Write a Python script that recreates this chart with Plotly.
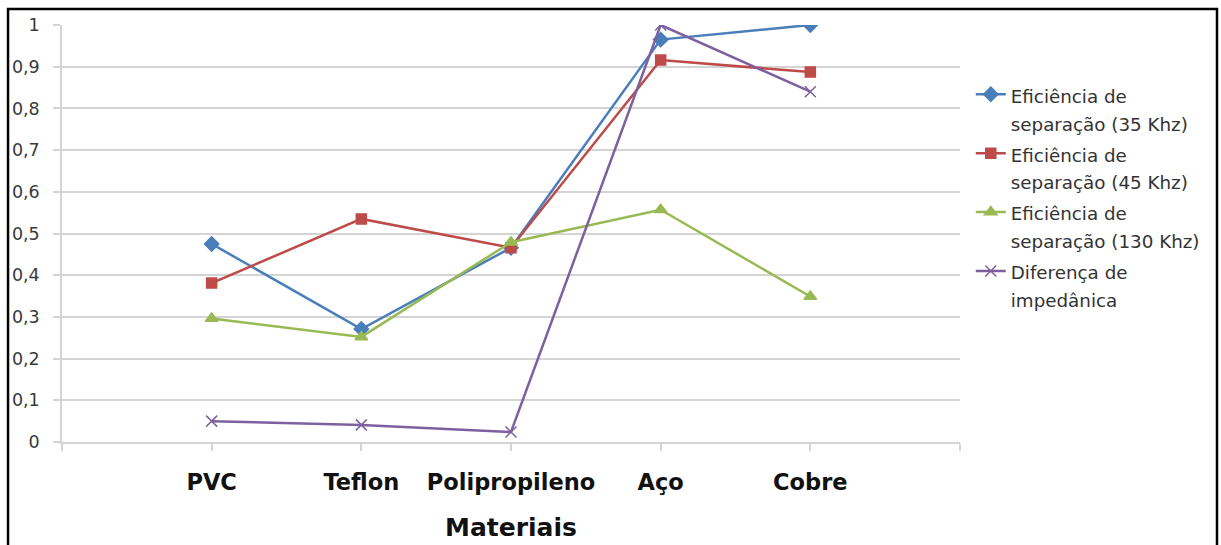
import plotly.graph_objects as go

materiais = ["PVC", "Teflon", "Polipropileno", "Aço", "Cobre"]
ef_35 = [0.475, 0.271, 0.466, 0.965, 1.0]
ef_45 = [0.381, 0.535, 0.466, 0.916, 0.887]
ef_130 = [0.296, 0.252, 0.479, 0.557, 0.349]
dif_imp = [0.050, 0.041, 0.024, 1.0, 0.840]

y_ticks = [0, 0.1, 0.2, 0.3, 0.4, 0.5, 0.6, 0.7, 0.8, 0.9, 1]

series = [
    ("Eficiência de<br>separação (35 Khz)", ef_35, "#4A7EBB", "diamond", 11),
    ("Eficiência de<br>separação (45 Khz)", ef_45, "#BE4B48", "square", 10),
    ("Eficiência de<br>separação (130 Khz)", ef_130, "#98B954", "triangle-up", 11),
    ("Diferença de<br>impedânica", dif_imp, "#7D60A0", "x-thin-open", 11),
]

xpos = list(range(1, len(materiais) + 1))
FONT = "DejaVu Sans"

fig = go.Figure()
for name, vals, color, symbol, size in series:
    fig.add_trace(go.Scatter(
        x=xpos, y=vals, mode="lines+markers",
        name=f"<span style='font-size:18.3px'>{name}</span>",
        line=dict(color=color, width=2.5),
        marker=dict(symbol=symbol, size=size, color=color,
                    line=dict(color=color, width=1.5)),
    ))

grid = "#D4D4D4"
fig.update_layout(
    width=1221, height=545,
    margin=dict(l=62, r=261, t=25, b=103, autoexpand=False),
    paper_bgcolor="white", plot_bgcolor="white",
    separators=",.",
    font=dict(family=FONT, color="#404040"),
    showlegend=True,
    legend=dict(
        x=1.012, y=0.883, xanchor="left", yanchor="top",
        font=dict(size=21.5, color="#333333"),
        valign="top", itemwidth=30, tracegroupgap=0,
        bgcolor="rgba(0,0,0,0)",
    ),
    xaxis=dict(
        range=[0, len(materiais) + 1],
        tickvals=list(range(0, len(materiais) + 2)),
        ticktext=[""] + [f"<b>{m}</b>" for m in materiais] + [""],
        tickfont=dict(size=22.5, color="#111111"),
        ticks="outside", ticklen=7, tickcolor=grid, tickwidth=1.5,
        showline=True, linecolor=grid, linewidth=1.5,
        showgrid=False, zeroline=False, automargin=False,
        ticklabelstandoff=12,
        title=dict(text="<b>Materiais</b>", font=dict(size=25, color="#111111"),
                   standoff=25),
    ),
    yaxis=dict(
        range=[0, 1],
        tickvals=y_ticks,
        tickfont=dict(size=17.5, color="#3A3A3A"),
        ticks="outside", ticklen=7, tickcolor=grid, tickwidth=1.5,
        showline=True, linecolor=grid, linewidth=1.5,
        showgrid=True, gridcolor=grid, gridwidth=1.5,
        zeroline=False, automargin=False, ticklabelstandoff=10,
    ),
    shapes=[dict(
        type="rect", xref="paper", yref="paper",
        x0=-0.0601, x1=1.2862, y0=-0.3, y1=1.0384,
        line=dict(color="black", width=2.5), fillcolor="rgba(0,0,0,0)",
        layer="below",
    )],
)

fig.write_html("out.html")
